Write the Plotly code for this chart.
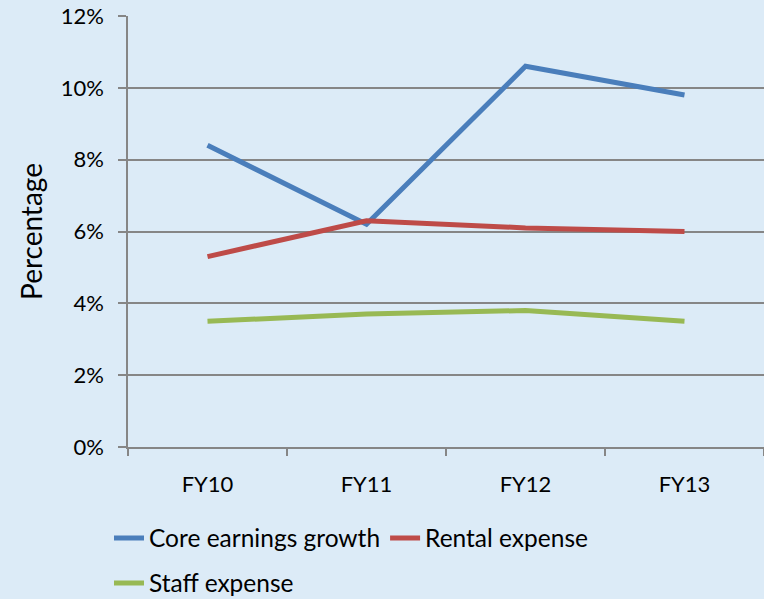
import plotly.graph_objects as go

categories = ["FY10", "FY11", "FY12", "FY13"]
core_earnings = [8.4, 6.2, 10.6, 9.8]
rental_expense = [5.3, 6.3, 6.1, 6.0]
staff_expense = [3.5, 3.7, 3.8, 3.5]
y_ticks = [0, 2, 4, 6, 8, 10, 12]
y_tick_labels = ["0%", "2%", "4%", "6%", "8%", "10%", "12%"]

FONT = "Lato, Open Sans, sans-serif"
fig = go.Figure()
for name, vals, col, lg in [
    ("Core earnings growth", core_earnings, "#4A7EBB", "legend"),
    ("Rental expense", rental_expense, "#BE4B48", "legend"),
    ("Staff expense", staff_expense, "#98B954", "legend2"),
]:
    fig.add_trace(go.Scatter(x=categories, y=vals, name=name, mode="lines", legend=lg,
                             line=dict(color=col, width=5)))

W, H = 764, 599
leg_common = dict(orientation="h", xanchor="left", yanchor="middle", yref="container",
                  xref="container", font=dict(size=24.5), bgcolor="rgba(0,0,0,0)")
fig.update_layout(
    width=W, height=H,
    margin=dict(l=128, r=0, t=16, b=152),
    paper_bgcolor="#DCEBF7", plot_bgcolor="rgba(0,0,0,0)",
    font=dict(family=FONT, size=22, color="#000000"),
    showlegend=True,
    legend=dict(x=109 / W, y=1 - 538 / H, **leg_common),
    legend2=dict(x=109 / W, y=1 - 583 / H, **leg_common),
)
fig.update_xaxes(type="category", range=[-0.5, 3.5], showline=True, linecolor="#868686",
                 linewidth=1.5, ticks="outside", tickson="boundaries", ticklen=7,
                 tickcolor="#868686", tickwidth=1.5, showgrid=False, tickfont=dict(size=22),
                 ticklabelstandoff=17)
fig.update_yaxes(range=[0, 12], tickvals=y_ticks, ticktext=y_tick_labels, showline=True,
                 linecolor="#868686", linewidth=1.5, showgrid=True, gridcolor="#868686",
                 gridwidth=1.5, ticks="outside", ticklen=8, tickcolor="#868686", tickwidth=1.5,
                 zeroline=False, tickfont=dict(size=22), ticklabelstandoff=10,
                 title=dict(text="Percentage", font=dict(size=28), standoff=10))
fig.write_html("out.html", config={"displayModeBar": False},
               post_script="document.body.style.margin='0';")
